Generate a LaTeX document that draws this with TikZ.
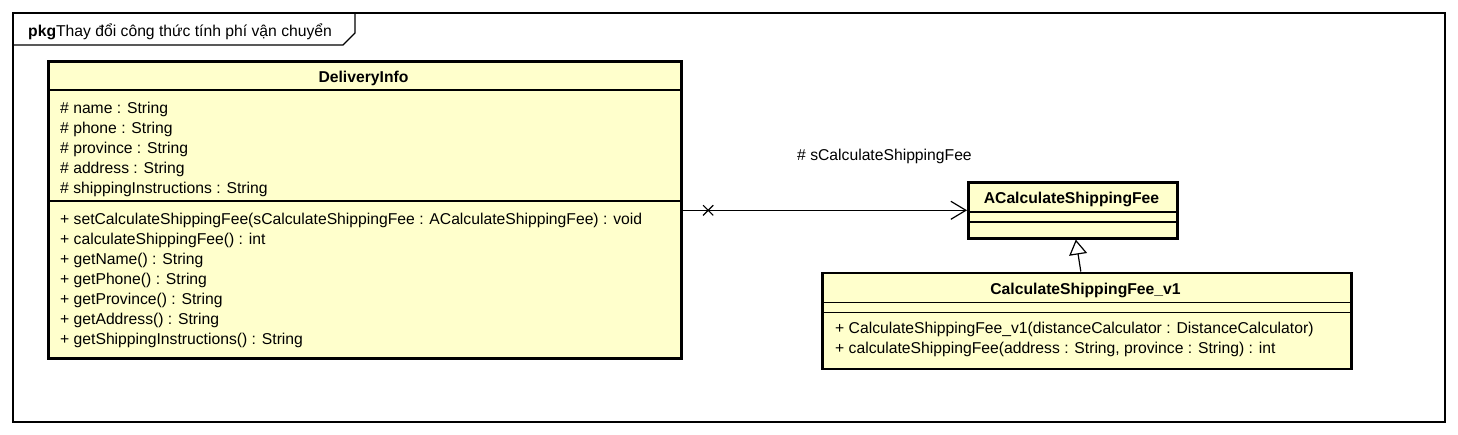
\documentclass[tikz,border=0pt]{standalone}
\usepackage{fontspec}
\setmainfont{Liberation Sans}
\usetikzlibrary{arrows.meta}
\usetikzlibrary{shapes.misc}
\definecolor{fondclasse}{HTML}{FFFFCC}

\begin{document}
\begin{tikzpicture}[x=1pt,y=-1pt]
\tikzstyle{lien}=[-{Straight Barb[length=15pt,width=18pt]},line width=1.2pt]
\tikzstyle{herit}=[-{Triangle[open,length=15pt,width=18pt]},line width=1.2pt]
\tikzset{classe/.style={draw,line width=2.6pt,fill=fondclasse,inner sep=0pt,anchor=north west},
trait/.style={line width=1.1pt},
titre/.style={inner sep=0pt,font=\fontsize{15.7}{20}\selectfont\bfseries},
texte/.style={inner sep=0pt,font=\fontsize{15.7}{20}\selectfont,align=left,anchor=north west},
croix/.style={cross out,draw,line width=1.2pt,minimum size=9pt,inner sep=0pt}}
\useasboundingbox (0,0) rectangle (1458,434);
% paquet
\draw[line width=1.2pt] (13,13) rectangle (1445,422);
\draw[line width=1.2pt] (13,45) -- (343,45) -- (355,33) -- (355,13);
\node[texte,anchor=base west] (paquet) at (28,36.5) {\textbf{pkg}Thay đổi công thức tính phí vận chuyển};
% DeliveryInfo
\node[classe,minimum width=633pt,minimum height=297pt] (deliveryinfo) at (47,60) {};
\draw[trait] (deliveryinfo.north west) ++(0,30) -- ++(633,0);
\draw[trait] (deliveryinfo.north west) ++(0,141) -- ++(633,0);
\node[titre,anchor=base] (deliveryinfotitre) at (363.5,82) {DeliveryInfo};
\node[texte] (deliveryinfoattr) at (60,102) {\# name : String\\ \# phone : String\\ \# province : String\\
\# address : String\\ \# shippingInstructions : String};
\node[texte] (deliveryinfoop) at (60,213) {+ setCalculateShippingFee(sCalculateShippingFee : ACalculateShippingFee) : void\\
+ calculateShippingFee() : int\\ + getName() : String\\ + getPhone() : String\\ + getProvince() : String\\
+ getAddress() : String\\ + getShippingInstructions() : String};
% ACalculateShippingFee
\node[classe,minimum width=209pt,minimum height=56pt] (acalc) at (967,181) {};
\draw[trait] (acalc.north west) ++(0,31) -- ++(209,0);
\draw[trait] (acalc.north west) ++(0,41) -- ++(209,0);
\node[titre,anchor=base] (acalctitre) at (1071.5,203.5) {ACalculateShippingFee};
% CalculateShippingFee_v1
\node[classe,minimum width=529pt,minimum height=96pt] (calcv1) at (821,271.5) {};
\draw[trait] (calcv1.north west) ++(0,31) -- ++(529,0);
\draw[trait] (calcv1.north west) ++(0,41) -- ++(529,0);
\node[titre,anchor=base] (calcv1titre) at (1085.5,294.5) {CalculateShippingFee\_v1};
\node[texte] (calcv1op) at (835,322) {+ CalculateShippingFee\_v1(distanceCalculator : DistanceCalculator)\\
+ calculateShippingFee(address : String, province : String) : int};
% liens
\draw[lien] (acalc.west -| deliveryinfo.east) -- node[croix,pos=0.09] (navcroix) {} (acalc.west);
\node[texte,anchor=base west] (role) at (797,160) {\# sCalculateShippingFee};
\draw[herit] ([xshift=-6pt]calcv1.north) -- ([xshift=3pt]acalc.south);
\end{tikzpicture}
\end{document}
